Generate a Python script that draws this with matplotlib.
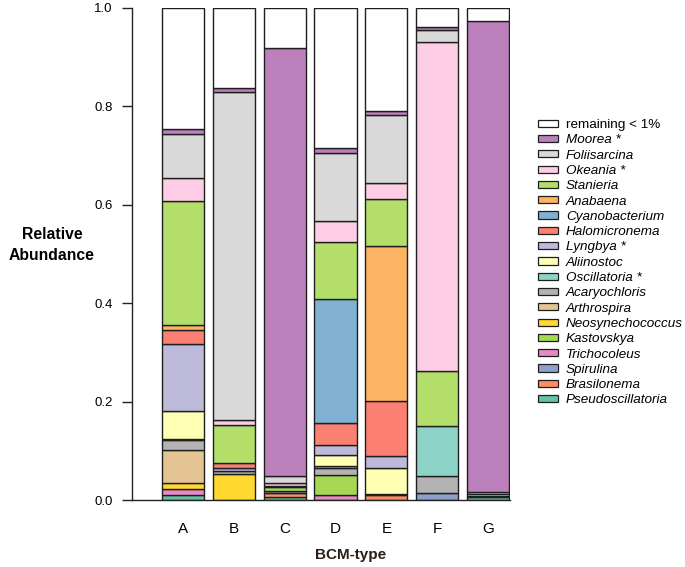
import numpy as np
import matplotlib
matplotlib.use("Agg")
import matplotlib.pyplot as plt

plt.rcParams['font.family'] = ['Liberation Sans', 'DejaVu Sans']

samples = ["A", "B", "C", "D", "E", "F", "G"]

# taxa in stacking order, bottom to top
taxa = ["Pseudoscillatoria", "Brasilonema", "Spirulina", "Trichocoleus", "Kastovskya",
        "Neosynechococcus", "Arthrospira", "Acaryochloris", "Oscillatoria *", "Aliinostoc",
        "Lyngbya *", "Halomicronema", "Cyanobacterium", "Anabaena", "Stanieria",
        "Okeania *", "Foliisarcina", "Moorea *", "remaining < 1%"]

colors = ["#66C2A5", "#FC8D62", "#8DA0CB", "#E78AC3", "#A6D854",
          "#FFD92F", "#E5C494", "#B3B3B3", "#8DD3C7", "#FFFFB3",
          "#BEBADA", "#FB8072", "#80B1D3", "#FDB462", "#B3DE69",
          "#FCCDE5", "#D9D9D9", "#BC80BD", "#FFFFFF"]

# relative abundance per BCM-type (A..G)
pseudoscillatoria = [0.010, 0.000, 0.007, 0.000, 0.000, 0.000, 0.006]
brasilonema       = [0.000, 0.000, 0.008, 0.000, 0.010, 0.000, 0.000]
spirulina         = [0.000, 0.000, 0.003, 0.000, 0.000, 0.014, 0.000]
trichocoleus      = [0.013, 0.000, 0.000, 0.010, 0.000, 0.000, 0.000]
kastovskya        = [0.000, 0.000, 0.008, 0.041, 0.000, 0.000, 0.000]
neosynechococcus  = [0.012, 0.054, 0.000, 0.000, 0.000, 0.000, 0.000]
arthrospira       = [0.067, 0.000, 0.000, 0.000, 0.000, 0.000, 0.000]
acaryochloris     = [0.021, 0.005, 0.000, 0.015, 0.002, 0.035, 0.003]
oscillatoria      = [0.002, 0.000, 0.000, 0.003, 0.000, 0.101, 0.000]
aliinostoc        = [0.056, 0.000, 0.003, 0.023, 0.053, 0.000, 0.003]
lyngbya           = [0.136, 0.007, 0.000, 0.019, 0.024, 0.000, 0.000]
halomicronema     = [0.028, 0.009, 0.000, 0.046, 0.112, 0.000, 0.000]
cyanobacterium    = [0.000, 0.000, 0.000, 0.252, 0.000, 0.000, 0.000]
anabaena          = [0.010, 0.000, 0.000, 0.000, 0.315, 0.000, 0.000]
stanieria         = [0.253, 0.078, 0.000, 0.116, 0.095, 0.113, 0.000]
okeania           = [0.046, 0.009, 0.005, 0.043, 0.033, 0.668, 0.000]
foliisarcina      = [0.089, 0.667, 0.015, 0.137, 0.138, 0.025, 0.005]
moorea            = [0.011, 0.009, 0.870, 0.010, 0.009, 0.006, 0.957]
remaining         = [0.246, 0.162, 0.081, 0.285, 0.209, 0.038, 0.026]

values = [pseudoscillatoria, brasilonema, spirulina, trichocoleus, kastovskya,
          neosynechococcus, arthrospira, acaryochloris, oscillatoria, aliinostoc,
          lyngbya, halomicronema, cyanobacterium, anabaena, stanieria,
          okeania, foliisarcina, moorea, remaining]

fig = plt.figure(figsize=(6.85, 5.67), dpi=100)
ax = fig.add_axes([0.193, 0.118, 0.552, 0.868])

x = np.arange(len(samples))
bottom = np.zeros(len(samples))
handles = []
for name, vals, col in zip(taxa, values, colors):
    vals = np.array(vals)
    lw = np.where(vals > 0, 1.0, 0.0)
    b = ax.bar(x, vals, bottom=bottom, width=0.83, color=col,
               edgecolor="#1e1e1e", linewidth=lw, label=name)
    handles.append(b)
    bottom += vals

ax.set_xlim(-1.0, 6.44)
ax.set_ylim(0, 1.0)
ax.set_xticks(x)
ax.set_xticklabels(samples, fontsize=11)
ax.set_yticks([0.0, 0.2, 0.4, 0.6, 0.8, 1.0])
ax.set_yticklabels(["0.0", "0.2", "0.4", "0.6", "0.8", "1.0"], fontsize=9.5)
ax.tick_params(axis="x", length=0, pad=16)
ax.tick_params(axis="y", length=7, width=1, pad=7, color="#222222")
for s in ["top", "right"]:
    ax.spines[s].set_visible(False)
for s in ["left", "bottom"]:
    ax.spines[s].set_linewidth(1.0)
    ax.spines[s].set_color("#222222")

ax.set_ylabel("Relative\nAbundance", rotation=0, fontsize=11.3, fontweight="bold",
              ha="center", va="center", linespacing=1.5)
ax.yaxis.set_label_coords(-0.212, 0.518)
ax.set_xlabel("BCM-type", fontsize=11, fontweight="bold", color="#2a1d15")
ax.xaxis.set_label_coords(0.577, -0.097)

# legend, top entry = last stacked
leg_handles = [h.patches[0] for h in handles][::-1]
leg_labels = taxa[::-1]
leg = fig.legend(leg_handles, leg_labels, loc="upper left",
                 bbox_to_anchor=(0.785, 0.790), bbox_transform=fig.transFigure,
                 frameon=False, fontsize=9.7, handlelength=1.5, handleheight=0.45,
                 handletextpad=0.6, labelspacing=0.245, borderpad=0, borderaxespad=0)
for h in leg.legend_handles:
    h.set_edgecolor("#1e1e1e")
    h.set_linewidth(0.9)
for t in leg.get_texts()[1:]:
    t.set_style("italic")

fig.savefig("out.png", dpi=100)
